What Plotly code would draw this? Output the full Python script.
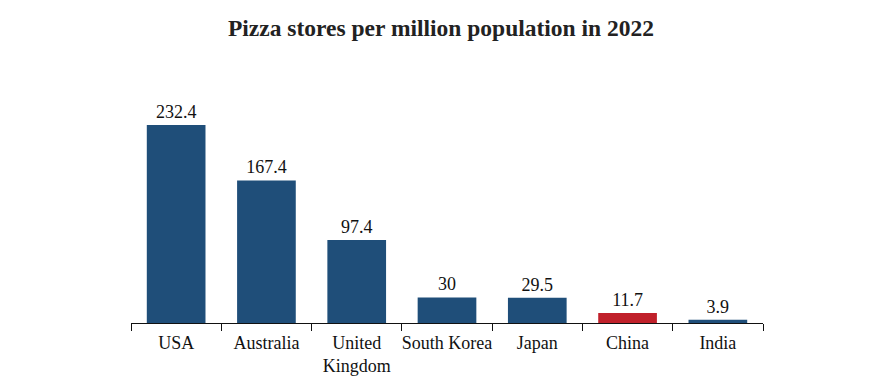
import plotly.graph_objects as go

categories = ["USA", "Australia", "United<br>Kingdom", "South Korea", "Japan", "China", "India"]
values = [232.4, 167.4, 97.4, 30, 29.5, 11.7, 3.9]
labels = ["232.4", "167.4", "97.4", "30", "29.5", "11.7", "3.9"]
highlight = "China"

blue = "#1f4e79"
red = "#c0202a"
colors = [red if c == highlight else blue for c in categories]

serif = "Liberation Serif"
label_font = dict(family=serif, size=18, color="#111111")

fig = go.Figure(go.Bar(
    x=categories, y=values, text=labels, textposition="outside",
    marker=dict(color=colors, line=dict(width=0)),
    textfont=label_font, outsidetextfont=label_font,
    cliponaxis=False, width=0.65,
))

fig.update_layout(
    width=871, height=382,
    margin=dict(l=123, r=116, t=52, b=67, autoexpand=False),
    paper_bgcolor="white", plot_bgcolor="white",
    font=dict(family=serif, size=18, color="#111111"),
    title=dict(text="<b>Pizza stores per million population in 2022</b>",
               x=433 / 871, xref="container", xanchor="center",
               y=1 - 20 / 382, yref="container", yanchor="middle",
               font=dict(family=serif, size=23.5, color="#222222")),
    showlegend=False,
    bargap=0.35,
)
fig.update_xaxes(showline=True, linecolor="#111111", linewidth=1,
                 ticks="outside", tickson="boundaries", ticklen=7, tickcolor="#111111",
                 showgrid=False, tickangle=0, automargin=False, ticklabelstandoff=3,
                 tickfont=label_font)
fig.update_yaxes(visible=False, range=[0, 308.7], showgrid=False, automargin=False)

fig.write_html("out.html")
